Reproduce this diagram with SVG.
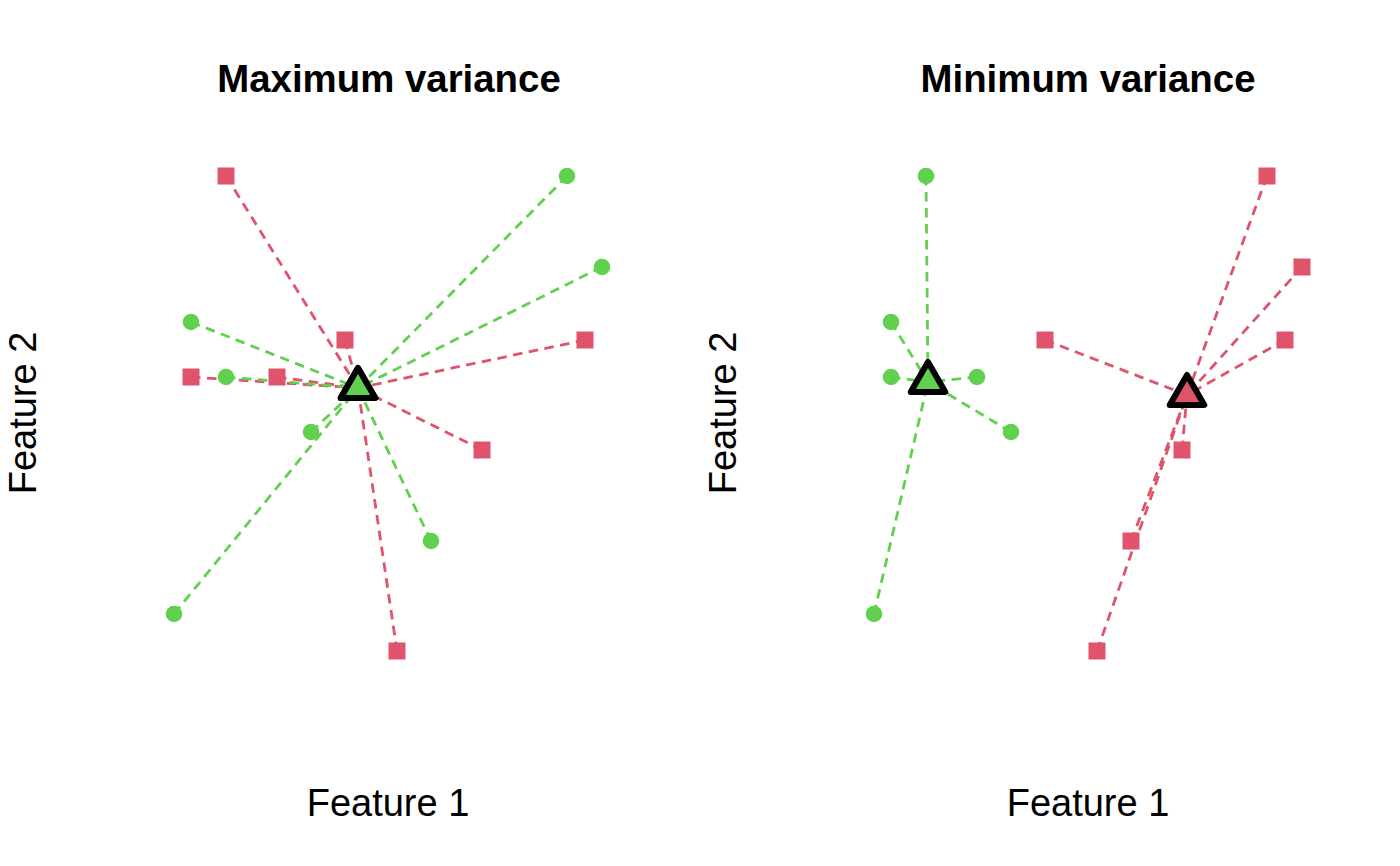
<svg xmlns="http://www.w3.org/2000/svg" width="1400" height="866" viewBox="0 0 1400 866">
<style>
.t{font-family:"Liberation Sans",Arial,sans-serif;font-size:38px;fill:#000;text-anchor:middle}
.b{font-weight:bold;font-size:38.4px}
.lr{stroke:#DF536B;stroke-width:2.8;stroke-dasharray:9.5 6.5;fill:none}
.lg{stroke:#61D04F;stroke-width:2.8;stroke-dasharray:9.5 6.5;fill:none}
.sq{fill:#DF536B}
.ci{fill:#61D04F}
.tri{stroke:#000;stroke-width:6;stroke-linejoin:round}
</style>
<defs>
<rect id="s" x="-8.5" y="-8.5" width="17" height="17"/>
<circle id="c" r="8.3"/>
<path id="tr" d="M0,-20 L17.3,10 L-17.3,10 Z"/>
</defs>
<rect width="1400" height="866" fill="#fff"/>
<g id="labels">
<text class="t b" x="389" y="92">Maximum variance</text>
<text class="t b" x="1088" y="92">Minimum variance</text>
<text class="t" x="388" y="816">Feature 1</text>
<text class="t" x="1088" y="816">Feature 1</text>
<text class="t" transform="translate(36,413) rotate(-90)">Feature 2</text>
<text class="t" transform="translate(736,413) rotate(-90)">Feature 2</text>
</g>
<g id="connectors">
<g class="lr">
<line x1="226" y1="176" x2="358" y2="388"/>
<line x1="345" y1="340" x2="358" y2="388"/>
<line x1="191" y1="377" x2="358" y2="388"/>
<line x1="277" y1="377" x2="358" y2="388"/>
<line x1="585" y1="340" x2="358" y2="388"/>
<line x1="482" y1="450" x2="358" y2="388"/>
<line x1="397" y1="651" x2="358" y2="388"/>
</g>
<g class="lg">
<line x1="567" y1="176" x2="358" y2="388"/>
<line x1="602" y1="267" x2="358" y2="388"/>
<line x1="191" y1="322" x2="358" y2="388"/>
<line x1="226" y1="377" x2="358" y2="388"/>
<line x1="311" y1="432" x2="358" y2="388"/>
<line x1="431" y1="541" x2="358" y2="388"/>
<line x1="174" y1="614" x2="358" y2="388"/>
</g>
<g class="lg">
<line x1="926" y1="176" x2="928" y2="382"/>
<line x1="891" y1="322" x2="928" y2="382"/>
<line x1="891" y1="377" x2="928" y2="382"/>
<line x1="977" y1="377" x2="928" y2="382"/>
<line x1="1011" y1="432" x2="928" y2="382"/>
<line x1="874" y1="614" x2="928" y2="382"/>
</g>
<g class="lr">
<line x1="1267" y1="176" x2="1187" y2="395"/>
<line x1="1302" y1="267" x2="1187" y2="395"/>
<line x1="1045" y1="340" x2="1187" y2="395"/>
<line x1="1285" y1="340" x2="1187" y2="395"/>
<line x1="1182" y1="450" x2="1187" y2="395"/>
<line x1="1131" y1="541" x2="1187" y2="395"/>
<line x1="1097" y1="651" x2="1187" y2="395"/>
</g>
</g>
<g id="left-red" class="sq">
<use href="#s" x="226" y="176"/>
<use href="#s" x="345" y="340"/>
<use href="#s" x="191" y="377"/>
<use href="#s" x="277" y="377"/>
<use href="#s" x="585" y="340"/>
<use href="#s" x="482" y="450"/>
<use href="#s" x="397" y="651"/>
</g>
<g id="left-green" class="ci">
<use href="#c" x="567" y="176"/>
<use href="#c" x="602" y="267"/>
<use href="#c" x="191" y="322"/>
<use href="#c" x="226" y="377"/>
<use href="#c" x="311" y="432"/>
<use href="#c" x="431" y="541"/>
<use href="#c" x="174" y="614"/>
</g>
<g id="right-green" class="ci">
<use href="#c" x="926" y="176"/>
<use href="#c" x="891" y="322"/>
<use href="#c" x="891" y="377"/>
<use href="#c" x="977" y="377"/>
<use href="#c" x="1011" y="432"/>
<use href="#c" x="874" y="614"/>
</g>
<g id="right-red" class="sq">
<use href="#s" x="1267" y="176"/>
<use href="#s" x="1302" y="267"/>
<use href="#s" x="1045" y="340"/>
<use href="#s" x="1285" y="340"/>
<use href="#s" x="1182" y="450"/>
<use href="#s" x="1131" y="541"/>
<use href="#s" x="1097" y="651"/>
</g>
<g id="centroid-left-red"><use href="#tr" class="tri" x="358" y="388" fill="#DF536B"/></g>
<g id="centroid-left-green"><use href="#tr" class="tri" x="358" y="388" fill="#61D04F"/></g>
<g id="centroid-right-green"><use href="#tr" class="tri" x="928" y="382" fill="#61D04F"/></g>
<g id="centroid-right-red"><use href="#tr" class="tri" x="1187" y="395" fill="#DF536B"/></g>
</svg>
